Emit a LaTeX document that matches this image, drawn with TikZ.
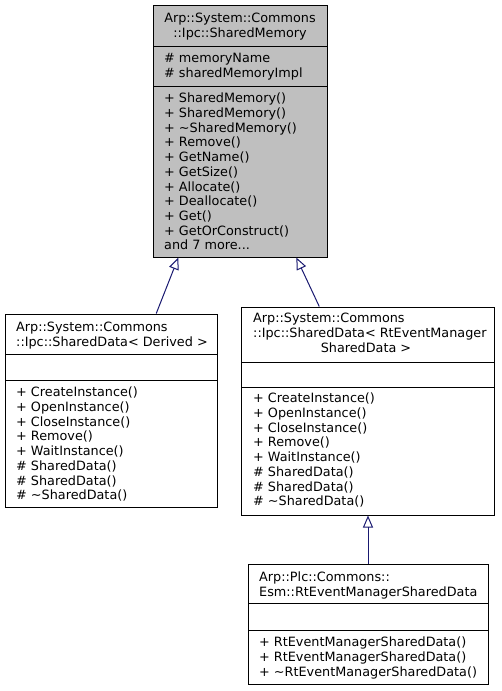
\documentclass[tikz,border=0pt]{standalone}
\usepackage{fontspec}
\setmainfont{DejaVu Sans}
\usepackage{xcolor,tikz}
\usetikzlibrary{arrows.meta,positioning}
\definecolor{edgeblue}{HTML}{191970}
\definecolor{basegray}{HTML}{BFBFBF}
\tikzset{
  classbox/.style={draw=black, line width=1pt, inner sep=0pt},
  members/.style={anchor=north west, align=left, inner sep=0pt, font=\fontsize{12.8}{14.7}\selectfont},
  inherit/.style={draw=edgeblue, line width=1pt, -{Triangle[open, length=12pt, width=10pt]}}
}

\begin{document}
\begin{tikzpicture}[x=1pt,y=-1pt]
        \useasboundingbox (0,0) rectangle (501,691);
        %%%% SharedMemory
        \node[classbox, fill=basegray, minimum width=174pt, minimum height=252pt] (shm) at (240,131) {};
        \draw[classbox] (153,46) -- (327,46);
        \draw[classbox] (153,86) -- (327,86);
        \node[members, anchor=north, align=center] (shmName) at (240,12.9) {Arp::System::Commons\\::Ipc::SharedMemory};
        \node[members] (shmAttr) at (164,52.9) {\# memoryName\\\# sharedMemoryImpl};
        \node[members] (shmOps) at (164,92.9) {+ SharedMemory()\\+ SharedMemory()\\+ \textasciitilde SharedMemory()\\+ Remove()\\+ GetName()\\+ GetSize()\\+ Allocate()\\+ Deallocate()\\+ Get()\\+ GetOrConstruct()\\and 7 more...};
        %%%% SharedData< Derived >
        \node[classbox, minimum width=212pt, minimum height=193pt] (sdd) at (111,410.5) {};
        \draw[classbox] (5,354) -- (217,354);
        \draw[classbox] (5,380) -- (217,380);
        \node[members] (sddName) at (16,321.9) {Arp::System::Commons\\::Ipc::SharedData< Derived >};
        \node[members] (sddOps) at (16,386.9) {+ CreateInstance()\\+ OpenInstance()\\+ CloseInstance()\\+ Remove()\\+ WaitInstance()\\\# SharedData()\\\# SharedData()\\\# \textasciitilde SharedData()};
        %%%% SharedData< RtEventManagerSharedData >
        \node[classbox, minimum width=253pt, minimum height=208pt] (sdrt) at (368,411) {};
        \draw[classbox] (241.5,362) -- (494.5,362);
        \draw[classbox] (241.5,387) -- (494.5,387);
        \node[members] (sdrtName) at (253,312.9) {Arp::System::Commons\\::Ipc::SharedData< RtEventManager};
        \node[members, anchor=north] (sdrtNameEnd) at (366,342.3) {SharedData >};
        \node[members] (sdrtOps) at (253,392.9) {+ CreateInstance()\\+ OpenInstance()\\+ CloseInstance()\\+ Remove()\\+ WaitInstance()\\\# SharedData()\\\# SharedData()\\\# \textasciitilde SharedData()};
        %%%% RtEventManagerSharedData
        \node[classbox, minimum width=240pt, minimum height=120pt] (rtemsd) at (368,624) {};
        \draw[classbox] (248,603) -- (488,603);
        \draw[classbox] (248,630) -- (488,630);
        \node[members] (rtemsdName) at (259,571.9) {Arp::Plc::Commons::\\Esm::RtEventManagerSharedData};
        \node[members] (rtemsdOps) at (259,636.9) {+ RtEventManagerSharedData()\\+ RtEventManagerSharedData()\\+ \textasciitilde RtEventManagerSharedData()};
        %%%% inheritance
        \draw[inherit] (sdd.65.5) -- (shm.244.5);
        \draw[inherit] (sdrt.115) -- (shm.294.7);
        \draw[inherit] (rtemsd.north) -- (sdrt.south);
    \end{tikzpicture}
\end{document}
